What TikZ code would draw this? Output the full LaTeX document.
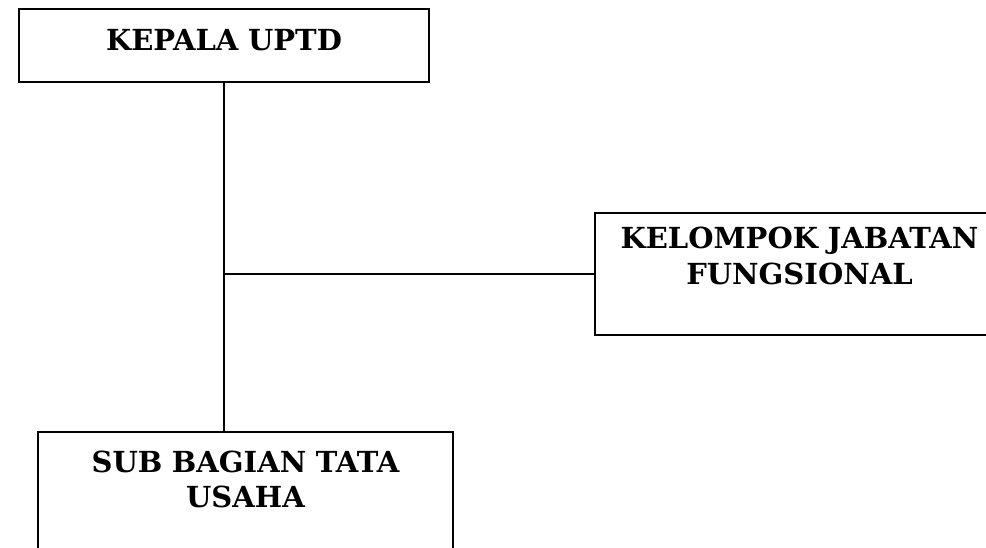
\documentclass[tikz,border=0pt]{standalone}
\usepackage{fontspec}
\setmainfont{DejaVu Serif}
\usetikzlibrary{positioning}

\begin{document}
\begin{tikzpicture}[x=1pt,y=-1pt]
  \tikzset{
    unit/.style={
      draw,
      line width=2pt,
      anchor=north west,
      inner xsep=0pt,
      inner ysep=0pt,
      align=center,
      font=\fontsize{29}{35.5}\selectfont\bfseries
    },
    link/.style={
      line width=2pt
    }
  }
  \useasboundingbox (0,0) rectangle (986,548);
  \clip (0,0) rectangle (986,548);

  % Draw the boxes
    \node[unit, text width=410pt, text height=42pt, text depth=31pt] at (18, 8) (kepala) {KEPALA UPTD};

    \node[unit, text width=409pt, text height=36pt, text depth=86pt] at (594, 212) (kelompok) {KELOMPOK JABATAN\\FUNGSIONAL};

    \node[unit, text width=415pt, text height=40pt, text depth=82pt] at (37, 431) (subbag) {SUB BAGIAN TATA\\USAHA};

  % Draw the connectors
    \draw[link] (kepala.south) -- (kepala.south |- subbag.north);
    \draw[link] (kepala.south |- kelompok.west) -- (kelompok.west);

\end{tikzpicture}
\end{document}
